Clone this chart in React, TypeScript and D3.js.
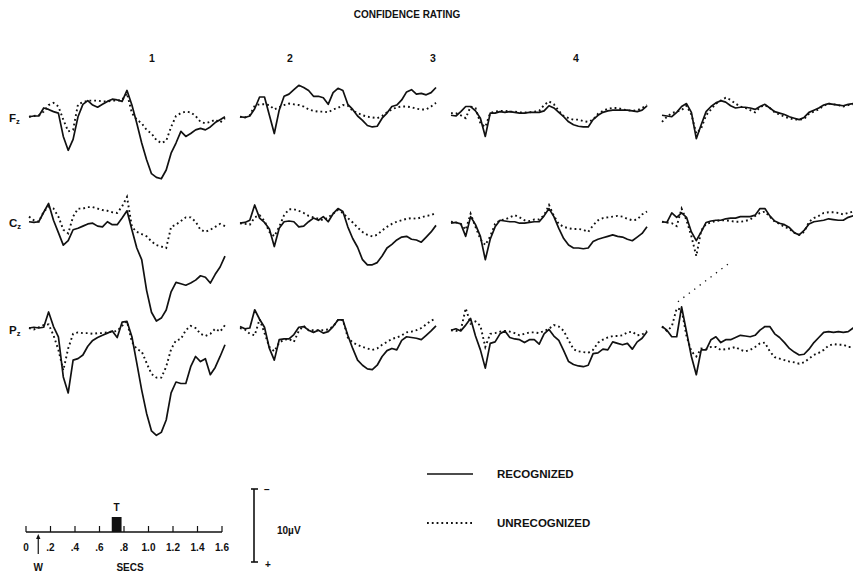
import * as d3 from "d3";

// sample instants (s) for every trace, 0–1.6 s every 40 ms
const TIMES = d3.range(41).map((i) => +(i * 0.04).toFixed(2));

const TITLE = "CONFIDENCE RATING";
const ratings = ["1", "2", "3", "4"];
const sites = ["F", "C", "P"];

// amplitudes in µV, negative plotted upward
const fz1Rec = [0.1, 0, 0, -1.1, -0.9, -0.6, -0.4, 2.8, 4.7, 3.2, 0.1, -1.6, -2.1, -1.5, -1.2, -1.6, -2.0, -2.3, -2.2, -2.0, -3.5, -1.5, 1.0, 3.7, 6.0, 7.9, 8.4, 8.6, 7.4, 5.1, 3.7, 2.1, 2.8, 2.4, 1.9, 1.7, 1.9, 1.5, 0.9, 0.5, 0.1];
const fz1Unrec = [0.1, 0, -0.1, -0.6, -1.5, -1.8, -1.3, 0.5, 2.1, 1.9, -1.6, -1.9, -2.1, -2.1, -2.1, -2.0, -2.0, -2.1, -2.1, -2.2, -3.1, -0.4, 0.5, 1.0, 1.9, 2.4, 3.3, 3.7, 3.4, 1.5, 0, -0.4, -0.6, -0.5, 0, 0.8, 1.0, 0.8, 0.5, 0.9, 0.3];
const cz1Rec = [0.1, 0.2, 0.1, -1.2, -2.4, -0.1, 1.6, 3.3, 2.7, 1.2, 1.0, 0.7, 0.4, 0.3, 0.7, 0.8, 0.1, 0.5, 0.5, -0.4, -1.4, 1.2, 3.7, 5.3, 9.5, 12.5, 13.7, 13.3, 12.2, 9.7, 8.4, 8.6, 8.8, 8.5, 8.1, 7.5, 7.7, 8.5, 7.3, 6.3, 4.8];
const cz1Unrec = [-0.6, -0.1, 0.1, -1.3, -1.9, -1.7, -0.6, 1.2, 1.7, -0.6, -1.7, -1.7, -1.9, -1.9, -1.7, -1.5, -1.4, -1.2, -1.1, -2.0, -3.3, 0.8, 1.5, 1.8, 2.1, 2.8, 3.3, 3.5, 3.7, 0.8, 0.5, 0, -0.5, -0.5, 0.1, 1.2, 1.5, 1.2, 0.8, 0.4, 0.7];
const pz1Rec = [0, -0.1, 0, -0.1, -2.2, -0.2, 1.2, 6.7, 8.9, 4.4, 4.2, 3.7, 2.5, 1.7, 1.3, 1.0, 0.7, 0.4, 1.3, -0.8, -0.9, 1.2, 4.8, 8.5, 11.7, 14.1, 14.7, 14.3, 12.6, 8.9, 7.4, 7.6, 7.6, 5.3, 3.9, 4.6, 4.2, 6.4, 5.4, 3.9, 2.3];
const pz1Unrec = [0, 0.2, -0.1, -0.4, -0.5, 1.0, 3.0, 5.8, 2.8, 0.8, 0.6, 0.7, 0.7, 0.8, 0.7, 0.7, 0.6, 0.5, 0.4, -0.3, -0.9, 1.9, 2.9, 3.2, 4.8, 6.3, 6.8, 6.8, 5.3, 2.9, 1.7, 1.5, 0.3, -0.3, 0, 0.8, 1.1, 0.8, 0.1, 0.5, -0.4];

const fz2Rec = [0.1, 0.2, 0, -1.0, -2.6, -2.6, -0.1, 2.4, -0.8, -2.7, -3.0, -3.6, -4.2, -3.9, -3.5, -2.7, -2.7, -2.5, -1.6, -3.2, -3.8, -3.5, -1.6, -0.9, 0, 0.6, 1.3, 1.5, 1.4, 0.3, -0.4, -1.3, -1.5, -2.2, -3.3, -3.6, -3.0, -3.1, -2.9, -3.2, -3.9];
const fz2Unrec = [0.1, 0.2, -0.1, -1.4, -1.6, -1.6, -1.5, -0.9, -1.2, -1.5, -1.7, -1.6, -1.5, -1.3, -0.9, -0.7, -0.6, -0.6, -0.5, -0.9, -1.1, -1.5, -1.4, -0.7, -0.4, -0.1, 0.1, 0.2, 0.3, 0, -0.5, -0.9, -1.2, -1.3, -1.3, -1.2, -1.0, -0.9, -0.9, -1.3, -1.8];
const cz2Rec = [0.3, 0.2, -0.1, -2.2, -0.4, 0.2, 1.1, 3.5, 1.0, 0.1, 0, 0.1, 0.8, 0.7, 0.1, -0.4, -0.1, -0.6, 0.1, -1.0, -1.7, -1.3, 0.8, 2.4, 3.6, 5.3, 6.0, 6.0, 5.7, 4.8, 3.7, 3.2, 2.6, 2.2, 2.1, 2.5, 2.6, 2.9, 2.2, 1.5, 0.6];
const cz2Unrec = [0.3, 0.4, 0.5, -0.5, -0.8, 0, 1.5, 2.1, 0.8, -0.8, -1.6, -1.6, -1.4, -1.1, -0.7, -0.5, -0.3, -0.1, -0.5, -1.0, -1.5, -1.1, -0.4, 0.2, 0.9, 1.5, 1.9, 2.1, 1.9, 1.3, 0.8, 0.4, 0.1, -0.1, -0.3, -0.4, -0.3, -0.5, -0.7, -0.8, -1.1];
const pz2Rec = [-0.2, 0.1, 0, -2.5, -1.2, -0.1, 2.8, 4.4, 1.6, 1.5, 1.5, 0.9, -0.1, -0.2, 0.3, 0.6, 0.3, 0.7, 0.5, -0.2, -1.1, -1.1, 1.0, 2.8, 4.4, 5.1, 5.6, 5.7, 5.1, 3.9, 3.1, 2.8, 3.0, 1.7, 1.2, 1.3, 1.4, 1.6, 1.0, 0.4, -0.3];
const pz2Unrec = [0, 0.2, 0.8, 1.0, -1.2, 0.7, 2.6, 3.2, 2.0, 1.6, 1.5, 1.9, 0.4, -0.3, 0.3, 0.3, 0.3, 0.3, 0.2, -0.2, -1.1, -1.1, 1.3, 2.0, 2.3, 2.6, 2.8, 3.0, 2.8, 2.3, 1.9, 1.5, 1.3, 1.0, 0.6, 0.5, 0.3, 0, -0.5, -1.0, -1.3];

const fz3Rec = [-0.1, 0, -0.6, -1.3, -1.3, -0.7, 0.3, 2.8, -0.4, -0.4, -0.6, -0.5, -0.6, -0.5, -0.4, -0.4, -0.5, -0.5, -0.5, -0.7, -1.4, -1.1, -0.5, 0.1, 0.8, 1.2, 1.4, 1.5, 1.5, 0.5, -0.1, -0.5, -0.7, -0.8, -0.8, -0.8, -0.8, -0.7, -0.6, -0.8, -1.4];
const fz3Unrec = [-0.4, -0.4, -0.1, 0.3, -1.3, -1.1, 1.0, 1.5, -0.4, -0.6, -0.7, -0.7, -0.6, -0.6, -0.5, -0.5, -0.5, -0.6, -0.7, -1.5, -2.0, -1.6, -0.7, 0, 0.3, 0.5, 0.5, 0.7, 0.8, 0.5, -0.3, -0.7, -1.0, -1.1, -1.1, -0.9, -0.8, -0.7, -0.8, -1.1, -1.5];
const cz3Rec = [0.3, 0.2, 0.4, 2.1, -0.6, 0.5, 2.1, 5.3, 2.5, 0.8, -0.1, 0, 0.1, 0.1, 0.3, 0.3, 0.2, 0.1, 0.1, -0.7, -1.7, -0.6, 1.0, 2.4, 3.3, 3.7, 3.7, 3.8, 3.7, 2.8, 2.5, 2.3, 2.1, 1.9, 2.1, 2.2, 2.5, 2.7, 2.2, 1.7, 0.8];
const cz3Unrec = [0.1, 0.2, 0.4, 1.2, -1.0, 0.8, 2.5, 3.3, 2.1, 0.4, -0.1, -0.2, -0.5, -0.8, -0.5, -0.1, 0, -0.2, -0.2, -0.8, -2.2, -0.7, 0.4, 0.8, 1.0, 1.1, 1.1, 1.2, 1.5, 0.6, -0.1, -0.4, -0.5, -0.6, -0.7, -0.6, -0.3, -0.1, -0.2, -0.9, -1.3];
const pz3Rec = [0.3, 0.1, 0.4, -0.4, -1.3, 1.1, 3.0, 5.5, 2.1, 1.9, 0.8, 0.4, 1.3, 1.5, 1.6, 2.0, 1.6, 1.6, 2.2, 0.8, 0.2, 1.1, 1.7, 3.1, 4.6, 5.0, 5.2, 5.3, 5.1, 3.5, 3.4, 2.9, 3.0, 1.9, 2.1, 2.3, 2.1, 2.9, 1.9, 1.4, 0.5];
const pz3Unrec = [0.3, 0.4, 0.3, -2.7, -0.6, -0.9, -0.3, 2.6, 0.8, 0.7, 0.5, 0.4, 0.5, 0.7, 1.0, 0.8, 0.6, 0.6, 0.7, 0.4, 0.1, -0.4, -0.2, 0.4, 1.7, 2.9, 3.2, 3.3, 3.4, 3.0, 2.0, 1.6, 1.3, 1.1, 1.1, 1.0, 0.6, 0.5, 1.0, 0.9, 0.4];

const fz4Rec = [-0.1, 0, 0.1, -0.5, -1.3, -1.7, -0.5, 3.1, 1.2, -0.6, -1.3, -1.8, -2.1, -1.9, -1.4, -1.1, -1.2, -1.2, -1.1, -0.9, -1.3, -1.6, -1.1, -0.6, -0.4, -0.2, 0.1, 0.3, 0.5, 0.2, -0.5, -0.8, -1.1, -1.5, -1.7, -1.6, -1.5, -1.4, -1.6, -1.7, -1.8];
const fz4Unrec = [0.8, 0.1, -0.4, -0.6, -0.8, -1.4, -0.2, 2.4, 1.7, -0.1, -0.9, -1.7, -2.1, -2.5, -2.2, -1.7, -1.3, -1.1, -0.8, -0.5, -1.2, -1.5, -1.1, -0.5, -0.2, 0.1, 0.3, 0.5, 0.5, 0.4, -0.3, -0.6, -0.9, -1.4, -1.7, -1.6, -1.5, -1.3, -1.5, -1.6, -1.7];
const cz4Rec = [0.1, 0.2, -1.1, -0.5, -1.1, -0.5, 1.5, 2.7, 1.5, 0.2, 0, -0.1, -0.1, -0.3, -0.4, -0.4, -0.6, -0.6, -0.6, -0.8, -1.7, -1.7, -0.7, 0, 0.3, 0.5, 0.9, 1.6, 1.9, 1.3, 0.4, 0.1, 0, -0.1, -0.3, -0.2, -0.1, -0.1, -0.5, -0.7, -0.8];
const cz4Unrec = [0.1, 0.2, 0.3, 0.7, -1.7, -0.1, 2.1, 4.8, 1.3, 0.4, 0.2, 0, -0.1, -0.1, 0, 0.1, 0.1, 0, -0.2, -0.7, -1.1, -1.3, -0.6, 0.1, 0.4, 0.8, 1.1, 1.6, 1.9, 1.5, 0.1, -0.4, -0.7, -1.1, -1.2, -1.2, -1.1, -0.9, -1.1, -1.3, -1.4];
const pz4Rec = [-0.2, 0.3, 1.2, 1.2, -2.9, 0.5, 3.9, 6.4, 3.0, 3.0, 1.6, 1.2, 2.0, 1.6, 1.6, 1.3, 1.0, 1.1, 1.2, 1.0, 0.3, -0.2, -0.2, 0.8, 1.3, 2.0, 2.8, 3.3, 3.7, 3.6, 2.9, 2.0, 1.3, 0.6, 0.5, 0.6, 0.5, 0.6, 0.5, 0, -0.1];
const pz4Unrec = [-0.2, 0.4, -0.2, -2.7, -2.5, 1.1, 3.2, 3.9, 2.8, 2.9, 2.6, 2.6, 3.0, 2.9, 2.8, 2.6, 3.0, 3.2, 3.0, 2.6, 2.1, 2.0, 3.2, 4.0, 4.2, 4.4, 4.6, 4.7, 4.9, 4.7, 4.2, 3.7, 3.4, 3.0, 2.4, 2.2, 2.3, 2.3, 2.6, 2.6, 2.7];

// stray pen trace in the rating-4 Pz panel: [time, µV]
const pz4Stray = [[0.13, -3.6], [0.55, -8.9]];

const scaleTicks = [0, 0.2, 0.4, 0.6, 0.8, 1.0, 1.2, 1.4, 1.6];
const scaleLabels = ["0", ".2", ".4", ".6", ".8", "1.0", "1.2", "1.4", "1.6"];
const targetWindow = [0.7, 0.78];
const warningAt = 0.1;
const calibUv = 10;

const recognized = [
  [fz1Rec, fz2Rec, fz3Rec, fz4Rec],
  [cz1Rec, cz2Rec, cz3Rec, cz4Rec],
  [pz1Rec, pz2Rec, pz3Rec, pz4Rec],
];
const unrecognized = [
  [fz1Unrec, fz2Unrec, fz3Unrec, fz4Unrec],
  [cz1Unrec, cz2Unrec, cz3Unrec, cz4Unrec],
  [pz1Unrec, pz2Unrec, pz3Unrec, pz4Unrec],
];

const W = 853;
const H = 573;
const COL_X0 = [29, 240, 451, 662];
const PANEL_W = 196;
const ROW_Y0 = [116, 221, 328];
const PX_PER_UV = 7.3;
const INK = "#111";
const FONT = "'Liberation Sans', Arial, sans-serif";

const colLabelX = [152, 290, 433, 576];

export default function App() {
  const xScales = COL_X0.map((x0) =>
    d3.scaleLinear().domain([0, 1.6]).range([x0, x0 + PANEL_W])
  );
  const yScales = ROW_Y0.map((y0) =>
    d3.scaleLinear().domain([0, 10]).range([y0, y0 + 10 * PX_PER_UV])
  );
  const trace = (c: number, r: number) =>
    d3
      .line<number>()
      .x((_, i) => xScales[c](TIMES[i]))
      .y((v) => yScales[r](v));

  const barX = d3.scaleLinear().domain([0, 1.6]).range([26, 222]);
  const barY = 532;
  const uv = d3.scaleLinear().domain([0, calibUv]).range([0, calibUv * PX_PER_UV]);
  const calTop = 489;
  const calBottom = calTop + uv(calibUv);

  const dotted = { strokeDasharray: "1.8 3", strokeWidth: 1.9 };

  return (
    <svg
      width={W}
      height={H}
      viewBox={`0 0 ${W} ${H}`}
      style={{ position: "absolute", left: 0, top: 0, background: "#fff" }}
      fontFamily={FONT}
      fontWeight={700}
    >
      <rect width={W} height={H} fill="#fff" />
      <text x={407} y={18} fontSize={10} textAnchor="middle" fill={INK}>
        {TITLE}
      </text>
      {ratings.map((r, c) => (
        <text key={r} x={colLabelX[c]} y={62} fontSize={10.5} textAnchor="middle" fill={INK}>
          {r}
        </text>
      ))}
      {sites.map((s, r) => (
        <text key={s} x={9} y={ROW_Y0[r] + 6} fontSize={11.5} fill={INK}>
          {s}
          <tspan fontSize={7.5} dy={2}>
            z
          </tspan>
        </text>
      ))}

      {recognized.map((row, r) =>
        row.map((vals, c) => (
          <g key={`${r}-${c}`}>
            <path
              d={trace(c, r)(unrecognized[r][c]) ?? ""}
              fill="none"
              stroke={INK}
              {...dotted}
            />
            <path
              d={trace(c, r)(vals) ?? ""}
              fill="none"
              stroke={INK}
              strokeWidth={1.7}
              strokeLinejoin="round"
            />
          </g>
        ))
      )}

      <path
        d={
          d3
            .line<number[]>()
            .x((d) => xScales[3](d[0]))
            .y((d) => yScales[2](d[1]))(pz4Stray) ?? ""
        }
        fill="none"
        stroke={INK}
        strokeWidth={1.3}
        strokeDasharray="1.3 5.5"
      />

      {/* time scale */}
      <line x1={barX(0)} x2={barX(1.6)} y1={barY} y2={barY} stroke={INK} strokeWidth={1.6} />
      {scaleTicks.map((t, i) => (
        <g key={t}>
          <line x1={barX(t)} x2={barX(t)} y1={barY} y2={barY - 6} stroke={INK} strokeWidth={1.2} />
          <text x={barX(t)} y={551} fontSize={10} textAnchor="middle" fill={INK}>
            {scaleLabels[i]}
          </text>
        </g>
      ))}
      <rect
        x={barX(targetWindow[0])}
        y={517}
        width={barX(targetWindow[1]) - barX(targetWindow[0])}
        height={barY - 517}
        fill={INK}
      />
      <text x={(barX(targetWindow[0]) + barX(targetWindow[1])) / 2} y={511} fontSize={10} textAnchor="middle" fill={INK}>
        T
      </text>
      <line x1={barX(warningAt)} x2={barX(warningAt)} y1={554} y2={537} stroke={INK} strokeWidth={1.2} />
      <path
        d={`M${barX(warningAt) - 2.2},539 L${barX(warningAt)},534 L${barX(warningAt) + 2.2},539 Z`}
        fill={INK}
      />
      <text x={barX(warningAt)} y={571} fontSize={10} textAnchor="middle" fill={INK}>
        W
      </text>
      <text x={130} y={571} fontSize={10} textAnchor="middle" fill={INK}>
        SECS
      </text>

      {/* amplitude calibration */}
      <line x1={254} x2={254} y1={calTop} y2={calBottom} stroke={INK} strokeWidth={1.6} />
      <line x1={251} x2={258} y1={calTop} y2={calTop} stroke={INK} strokeWidth={1.6} />
      <line x1={251} x2={258} y1={calBottom} y2={calBottom} stroke={INK} strokeWidth={1.6} />
      <text x={267} y={493} fontSize={10} textAnchor="middle" fill={INK}>
        −
      </text>
      <text x={268} y={568} fontSize={10} textAnchor="middle" fill={INK}>
        +
      </text>
      <text x={277} y={534} fontSize={10} fill={INK}>
        10µV
      </text>

      {/* legend */}
      <line x1={427} x2={473} y1={474} y2={474} stroke={INK} strokeWidth={1.6} />
      <text x={497} y={478} fontSize={11.5} fill={INK}>
        RECOGNIZED
      </text>
      <line x1={427} x2={473} y1={523} y2={523} stroke={INK} {...dotted} />
      <text x={497} y={527} fontSize={11.5} fill={INK}>
        UNRECOGNIZED
      </text>
    </svg>
  );
}
